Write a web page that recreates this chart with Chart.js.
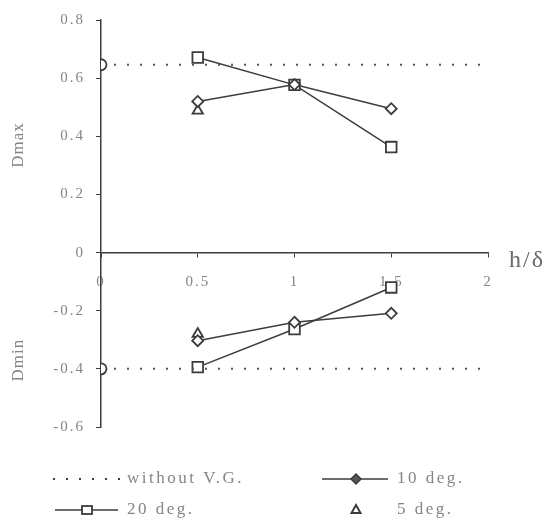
<!DOCTYPE html>
<html>
<head>
<meta charset="utf-8">
<script src="https://cdn.jsdelivr.net/npm/chart.js@4/dist/chart.umd.min.js"></script>
<style>
  html, body { margin: 0; padding: 0; background: #fff; }
  #wrap { width: 549px; height: 523px; position: relative; }
</style>
</head>
<body>
<div id="wrap"><canvas id="c" width="549" height="523"></canvas></div>
<script>
// ---- data ----
const hd = [0.5, 1, 1.5];
const deg20Max = [0.671, 0.577, 0.363];
const deg20Min = [-0.394, -0.263, -0.12];
const deg10Max = [0.52, 0.578, 0.495];
const deg10Min = [-0.303, -0.24, -0.209];
const deg5X = [0.5];
const deg5Max = [0.488];
const deg5Min = [-0.28];
const noVgX = [0, 1.96];
const noVgMax = [0.646, 0.646];
const noVgMin = [-0.40, -0.40];
const yTicks = [0.8, 0.6, 0.4, 0.2, 0, -0.2, -0.4, -0.6];
const xTicks = [0, 0.5, 1, 1.5, 2];

const INK = "#3c3c3c";
const TXT = "#858585";
const SERIF = "'Liberation Serif', 'DejaVu Serif', serif";

function pts(xs, ys) {
  return xs.map((x, i) => ({ x: x, y: ys[i] }));
}

function serie(data, style, radius, line) {
  return {
    data: data,
    showLine: line,
    borderColor: INK,
    borderWidth: 1.5,
    pointStyle: style,
    pointRadius: radius,
    pointBorderWidth: 1.8,
    pointBorderColor: INK,
    pointBackgroundColor: "#fff",
  };
}

const noVg = (ys) => ({
  data: pts(noVgX, ys),
  showLine: true,
  borderColor: "#555",
  borderWidth: 2,
  borderDash: [2, 11],
  pointStyle: "circle",
  pointRadius: [5.5, 0],
  pointBorderWidth: 1.8,
  pointBorderColor: INK,
  pointBackgroundColor: "#fff",
});

// ---- spacing, titles, h/δ and the legend ----
const extras = {
  id: "extras",
  beforeDraw(chart) {
    chart.ctx.letterSpacing = "2px";
  },
  afterDraw(chart) {
    const ctx = chart.ctx;
    const y = chart.scales.y;
    const x = chart.scales.x;
    ctx.save();
    ctx.fillStyle = TXT;
    ctx.font = "17px " + SERIF;
    ctx.letterSpacing = "1px";
    ctx.textAlign = "center";
    ctx.textBaseline = "middle";
    [["Dmax", 0.37], ["Dmin", -0.37]].forEach(([t, v]) => {
      ctx.save();
      ctx.translate(19, y.getPixelForValue(v));
      ctx.rotate(-Math.PI / 2);
      ctx.fillText(t, 0, 0);
      ctx.restore();
    });

    ctx.font = "24px " + SERIF;
    ctx.letterSpacing = "2px";
    ctx.textAlign = "left";
    ctx.fillStyle = "#6a6a6a";
    ctx.fillText("h/δ", x.right + 21, y.getPixelForValue(0) + 8);

    // legend
    ctx.font = "17px " + SERIF;
    ctx.letterSpacing = "2.5px";
    ctx.fillStyle = TXT;
    ctx.strokeStyle = INK;
    const r1 = 479, r2 = 510;

    ctx.lineWidth = 2;
    ctx.setLineDash([2, 11]);
    ctx.beginPath(); ctx.moveTo(53, r1); ctx.lineTo(122, r1); ctx.stroke();
    ctx.setLineDash([]);
    ctx.fillText("without V.G.", 127, r1);

    ctx.lineWidth = 1.5;
    ctx.beginPath(); ctx.moveTo(322, r1); ctx.lineTo(388, r1); ctx.stroke();
    ctx.beginPath();
    ctx.moveTo(356, r1 - 5); ctx.lineTo(361, r1); ctx.lineTo(356, r1 + 5); ctx.lineTo(351, r1);
    ctx.closePath(); ctx.fillStyle = "#555"; ctx.fill(); ctx.stroke();
    ctx.fillStyle = TXT;
    ctx.fillText("10 deg.", 397, r1);

    ctx.beginPath(); ctx.moveTo(55, r2); ctx.lineTo(118, r2); ctx.stroke();
    ctx.fillStyle = "#fff";
    ctx.fillRect(82, r2 - 4, 10, 8);
    ctx.lineWidth = 1.8;
    ctx.strokeRect(82, r2 - 4, 10, 8);
    ctx.fillStyle = TXT;
    ctx.fillText("20 deg.", 127, r2);

    ctx.lineWidth = 2;
    ctx.beginPath();
    ctx.moveTo(356, r2 - 5); ctx.lineTo(360.5, r2 + 3); ctx.lineTo(351.5, r2 + 3);
    ctx.closePath(); ctx.stroke();
    ctx.fillText("5 deg.", 397, r2);
    ctx.restore();
  },
};

new Chart(document.getElementById("c"), {
  type: "scatter",
  data: {
    datasets: [
      noVg(noVgMax),
      noVg(noVgMin),
      serie(pts(hd, deg10Max), "rectRot", 5.5, true),
      serie(pts(hd, deg10Min), "rectRot", 5.5, true),
      serie(pts(hd, deg20Max), "rect", 7.5, true),
      serie(pts(hd, deg20Min), "rect", 7.5, true),
      serie(pts(deg5X, deg5Max), "triangle", 6, false),
      serie(pts(deg5X, deg5Min), "triangle", 6, false),
    ],
  },
  options: {
    responsive: false,
    animation: false,
    layout: { padding: { left: 0, right: 61, top: 18, bottom: 96 } },
    plugins: { legend: { display: false }, tooltip: { enabled: false } },
    scales: {
      x: {
        type: "linear",
        position: { y: 0 },
        min: 0,
        max: 2,
        afterBuildTicks(s) { s.ticks = xTicks.map((v) => ({ value: v })); },
        border: { color: INK, width: 1.5 },
        grid: { drawOnChartArea: false, tickLength: 4, color: INK },
        ticks: {
          color: TXT,
          padding: 16,
          font: { family: SERIF, size: 15 },
          callback: (v) => String(v),
        },
      },
      y: {
        min: -0.6,
        max: 0.8,
        afterBuildTicks(s) { s.ticks = yTicks.map((v) => ({ value: v })); },
        afterFit(s) { s.width = 101; },
        border: { color: INK, width: 1.5 },
        grid: { drawOnChartArea: false, tickLength: 5, color: INK },
        ticks: {
          color: TXT,
          padding: 11,
          font: { family: SERIF, size: 15 },
          callback: (v) => String(v),
        },
      },
    },
  },
  plugins: [extras],
});
</script>
</body>
</html>
